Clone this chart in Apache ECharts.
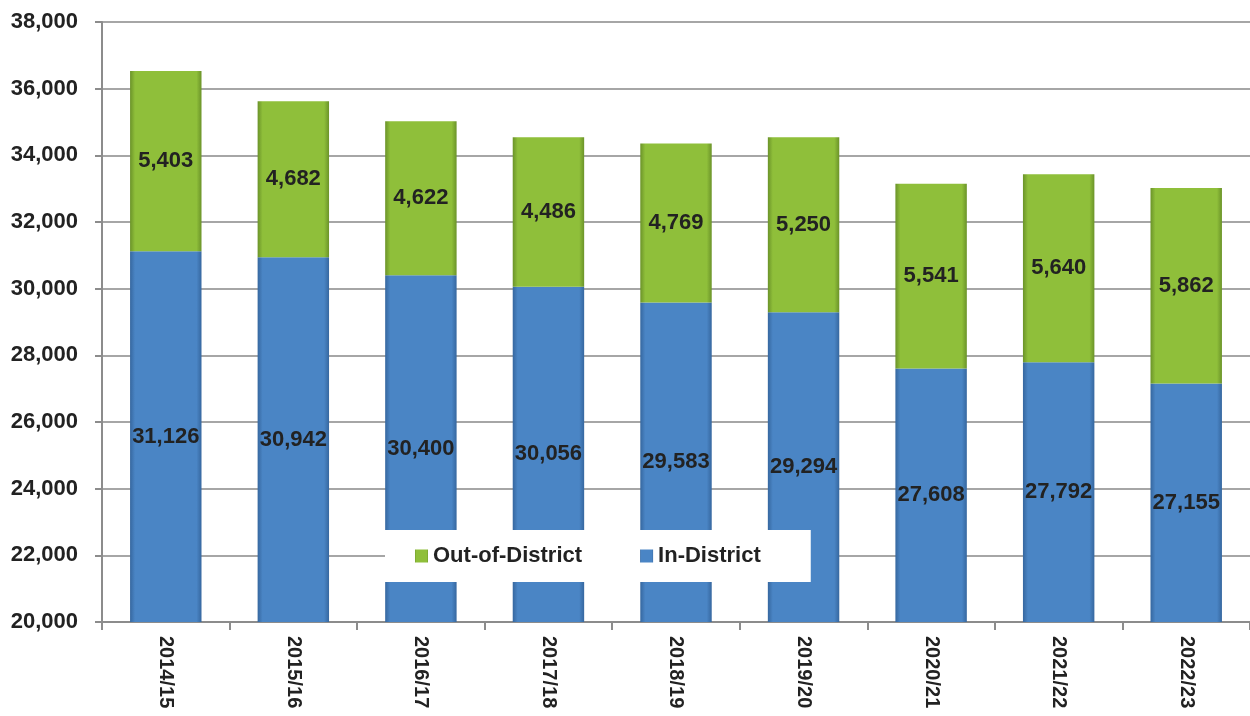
<!DOCTYPE html>
<html>
<head>
<meta charset="utf-8">
<script src="https://cdn.jsdelivr.net/npm/echarts@6/dist/echarts.min.js"></script>
<style>
  html, body { margin: 0; padding: 0; background: #fff; }
  #chart { width: 1250px; height: 716px; }
</style>
</head>
<body>
<div id="chart"></div>
<script>
// 数据
var years = ['2014/15', '2015/16', '2016/17', '2017/18', '2018/19', '2019/20', '2020/21', '2021/22', '2022/23'];
var inDistrict = [31126, 30942, 30400, 30056, 29583, 29294, 27608, 27792, 27155];
var outDistrict = [5403, 4682, 4622, 4486, 4769, 5250, 5541, 5640, 5862];

var font = '"Liberation Sans Narrow", "Liberation Sans", Arial, sans-serif';

// 柱子的横向渐变（两边暗一点）
function barGrad(dark, light) {
  return new echarts.graphic.LinearGradient(0, 0, 1, 0, [
    { offset: 0, color: dark },
    { offset: 0.07, color: light },
    { offset: 0.93, color: light },
    { offset: 1, color: dark }
  ]);
}

var fmt = function (p) {
  return p.value.toLocaleString('en-US');
};

var labelStyle = {
  show: true,
  position: 'inside',
  formatter: fmt,
  fontFamily: font,
  fontWeight: 'bold',
  fontSize: 22,
  color: '#222'
};

var chart = echarts.init(document.getElementById('chart'));
chart.setOption({
  animation: false,
  grid: { left: 102, right: -5, top: 22, bottom: 94 },
  legend: {
    left: 385,
    top: 530,
    padding: [15, 50, 15, 30],
    backgroundColor: '#fff',
    itemWidth: 13,
    itemHeight: 13,
    itemGap: 58,
    icon: 'rect',
    data: ['Out-of-District', 'In-District'],
    textStyle: { fontFamily: font, fontWeight: 'bold', fontSize: 22, color: '#222' }
  },
  xAxis: {
    type: 'category',
    data: years,
    axisLine: { lineStyle: { color: '#8c8c8c', width: 2 } },
    axisTick: { show: true, length: 8, lineStyle: { color: '#8c8c8c', width: 2 } },
    axisLabel: {
      rotate: -90,
      margin: 14,
      fontFamily: font,
      fontWeight: 'bold',
      fontSize: 20,
      color: '#222'
    }
  },
  yAxis: {
    type: 'value',
    min: 20000,
    max: 38000,
    interval: 2000,
    axisLine: { show: true, lineStyle: { color: '#8c8c8c', width: 2 } },
    axisTick: { show: true, length: 7, lineStyle: { color: '#8c8c8c', width: 2 } },
    splitLine: { lineStyle: { color: '#a6a6a6', width: 2 } },
    axisLabel: {
      margin: 24,
      fontFamily: font,
      fontWeight: 'bold',
      fontSize: 22,
      color: '#222',
      formatter: function (v) { return v.toLocaleString('en-US'); }
    }
  },
  series: [
    {
      name: 'In-District',
      type: 'bar',
      stack: 'total',
      barWidth: '56%',
      data: inDistrict,
      itemStyle: { color: barGrad('#36679f', '#4a85c5') },
      label: labelStyle
    },
    {
      name: 'Out-of-District',
      type: 'bar',
      stack: 'total',
      data: outDistrict,
      itemStyle: { color: barGrad('#6b9329', '#8fbf3a') },
      label: labelStyle
    }
  ]
});
</script>
</body>
</html>
